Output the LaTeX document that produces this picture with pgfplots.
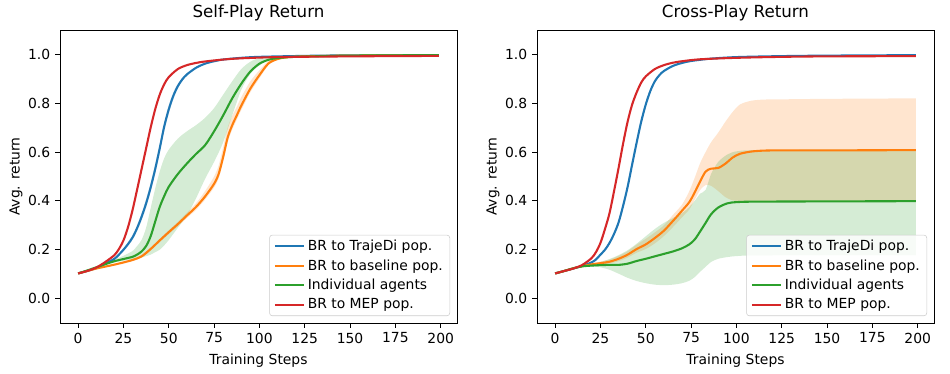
\documentclass[border=0pt]{standalone}
\usepackage{fontspec}
\setmainfont{DejaVu Sans}
\usepackage{pgfplots}
\pgfplotsset{compat=1.18}
\usepackage{pgfplotstable}
\usepgfplotslibrary{fillbetween}

\definecolor{tabblue}{HTML}{1F77B4}
\definecolor{taborange}{HTML}{FF7F0E}
\definecolor{tabgreen}{HTML}{2CA02C}
\definecolor{tabred}{HTML}{D62728}

% ---- Self-play (left) ----
\pgfplotstableread{
x y lo hi
0 0.103 0.103 0.103
5 0.113 0.112 0.114
10 0.125 0.124 0.126
15 0.143 0.141 0.145
20 0.163 0.159 0.167
22.5 0.180 0.175 0.185
25 0.200 0.194 0.206
27.5 0.223 0.215 0.231
30 0.250 0.240 0.260
32.5 0.288 0.276 0.300
35 0.335 0.320 0.350
37.5 0.390 0.373 0.407
40 0.455 0.436 0.474
42.5 0.530 0.510 0.550
45 0.615 0.595 0.635
47.5 0.705 0.686 0.724
50 0.775 0.758 0.792
52.5 0.830 0.816 0.844
55 0.870 0.860 0.880
57.5 0.898 0.891 0.905
60 0.918 0.913 0.923
65 0.945 0.942 0.948
70 0.962 0.960 0.964
75 0.972 0.971 0.973
80 0.979 0.978 0.980
90 0.986 0.985 0.987
100 0.990 0.989 0.991
125 0.994 0.993 0.995
150 0.996 0.995 0.997
199 0.997 0.996 0.998
}\spblue
\pgfplotstableread{
x y lo hi
0 0.103 0.103 0.103
5 0.113 0.112 0.114
10 0.123 0.122 0.124
15 0.131 0.130 0.132
20 0.139 0.137 0.141
25 0.148 0.145 0.151
30 0.158 0.154 0.162
35 0.173 0.168 0.178
40 0.203 0.197 0.209
45 0.238 0.231 0.245
50 0.272 0.264 0.280
55 0.305 0.296 0.314
60 0.340 0.330 0.352
65 0.375 0.363 0.390
70 0.418 0.405 0.440
75 0.470 0.455 0.500
77.5 0.510 0.492 0.545
80 0.580 0.560 0.620
82.5 0.660 0.640 0.700
85 0.710 0.692 0.748
87.5 0.750 0.732 0.785
90 0.790 0.772 0.825
95 0.860 0.845 0.890
100 0.915 0.902 0.935
105 0.963 0.956 0.973
110 0.981 0.978 0.985
115 0.988 0.986 0.990
125 0.992 0.991 0.993
150 0.995 0.994 0.996
199 0.997 0.996 0.998
}\sporange
\pgfplotstableread{
x y lo hi
0 0.103 0.103 0.103
5 0.115 0.114 0.116
10 0.128 0.126 0.130
15 0.141 0.138 0.145
20 0.153 0.148 0.160
25 0.162 0.155 0.175
30 0.171 0.160 0.195
32.5 0.180 0.164 0.215
35 0.193 0.168 0.240
37.5 0.215 0.174 0.290
40 0.255 0.180 0.370
42.5 0.315 0.190 0.450
45 0.375 0.200 0.520
47.5 0.420 0.218 0.575
50 0.458 0.240 0.610
55 0.510 0.290 0.655
60 0.553 0.340 0.685
65 0.592 0.410 0.710
70 0.628 0.490 0.740
75 0.685 0.560 0.780
80 0.750 0.640 0.835
85 0.820 0.750 0.890
90 0.880 0.855 0.940
95 0.930 0.920 0.970
100 0.962 0.955 0.985
105 0.978 0.975 0.990
110 0.985 0.983 0.992
120 0.990 0.989 0.994
150 0.995 0.994 0.996
199 0.997 0.996 0.998
}\spgreen
\pgfplotstableread{
x y lo hi
0 0.103 0.103 0.103
5 0.113 0.112 0.114
10 0.127 0.126 0.128
15 0.150 0.148 0.152
20 0.178 0.175 0.181
22.5 0.203 0.199 0.207
25 0.238 0.233 0.243
27.5 0.292 0.286 0.298
30 0.362 0.355 0.369
32.5 0.445 0.438 0.452
35 0.530 0.523 0.537
37.5 0.615 0.608 0.622
40 0.700 0.694 0.706
42.5 0.775 0.770 0.780
45 0.835 0.831 0.839
47.5 0.878 0.875 0.881
50 0.907 0.905 0.909
55 0.940 0.939 0.941
60 0.956 0.955 0.957
65 0.965 0.964 0.966
70 0.971 0.970 0.972
80 0.979 0.978 0.980
90 0.984 0.983 0.985
110 0.989 0.988 0.990
150 0.992 0.991 0.993
199 0.994 0.993 0.995
}\spred

% ---- Cross-play (right) ----
\pgfplotstableread{
x y lo hi
0 0.103 0.103 0.103
5 0.113 0.112 0.114
10 0.123 0.122 0.124
15 0.134 0.133 0.135
20 0.148 0.146 0.150
22.5 0.160 0.157 0.163
25 0.180 0.176 0.184
27.5 0.200 0.195 0.205
30 0.228 0.222 0.234
32.5 0.265 0.257 0.273
35 0.312 0.302 0.322
37.5 0.380 0.368 0.392
40 0.458 0.445 0.471
42.5 0.550 0.536 0.564
45 0.640 0.626 0.654
47.5 0.725 0.712 0.738
50 0.795 0.784 0.806
52.5 0.850 0.842 0.858
55 0.890 0.884 0.896
57.5 0.915 0.911 0.919
60 0.932 0.929 0.935
65 0.953 0.951 0.955
70 0.965 0.964 0.966
75 0.973 0.972 0.974
85 0.982 0.981 0.983
100 0.989 0.988 0.990
125 0.993 0.992 0.994
150 0.995 0.994 0.996
199 0.997 0.996 0.998
}\cpblue
\pgfplotstableread{
x y lo hi
0 0.103 0.103 0.103
5 0.113 0.112 0.114
10 0.124 0.122 0.126
15 0.133 0.130 0.136
20 0.140 0.137 0.144
25 0.145 0.140 0.152
30 0.151 0.144 0.160
35 0.163 0.153 0.175
40 0.180 0.168 0.194
45 0.203 0.188 0.221
50 0.222 0.203 0.245
55 0.248 0.226 0.271
60 0.278 0.256 0.300
65 0.318 0.293 0.343
70 0.360 0.333 0.385
74 0.395 0.365 0.440
77 0.435 0.405 0.495
80 0.480 0.445 0.555
83 0.520 0.465 0.600
86 0.532 0.462 0.640
90 0.535 0.440 0.680
94 0.553 0.415 0.725
98 0.578 0.402 0.765
102 0.593 0.399 0.795
108 0.602 0.398 0.810
115 0.606 0.398 0.815
125 0.607 0.398 0.816
150 0.607 0.398 0.818
199 0.608 0.398 0.820
}\cporange
\pgfplotstableread{
x y lo hi
0 0.103 0.103 0.103
5 0.113 0.112 0.114
10 0.124 0.122 0.126
15 0.132 0.129 0.135
20 0.135 0.131 0.140
25 0.137 0.128 0.150
30 0.138 0.118 0.162
35 0.138 0.102 0.178
40 0.143 0.085 0.198
45 0.154 0.072 0.225
50 0.163 0.063 0.255
55 0.173 0.057 0.285
60 0.183 0.055 0.310
65 0.193 0.057 0.330
70 0.206 0.063 0.350
74 0.222 0.073 0.375
77 0.242 0.088 0.400
80 0.275 0.110 0.430
83 0.310 0.130 0.445
86 0.345 0.150 0.510
90 0.373 0.163 0.560
95 0.390 0.170 0.590
100 0.395 0.174 0.603
110 0.397 0.177 0.608
150 0.398 0.178 0.610
199 0.399 0.178 0.610
}\cpgreen
\pgfplotstableread{
x y lo hi
0 0.103 0.103 0.103
5 0.113 0.112 0.114
10 0.123 0.122 0.124
15 0.138 0.137 0.139
20 0.165 0.163 0.167
22.5 0.190 0.187 0.193
25 0.228 0.224 0.232
27.5 0.285 0.280 0.290
30 0.350 0.344 0.356
32.5 0.440 0.434 0.446
35 0.535 0.529 0.541
37.5 0.635 0.629 0.641
40 0.725 0.720 0.730
42.5 0.795 0.791 0.799
45 0.845 0.842 0.848
47.5 0.885 0.883 0.887
50 0.910 0.908 0.912
55 0.940 0.939 0.941
60 0.956 0.955 0.957
65 0.966 0.965 0.967
70 0.972 0.971 0.973
80 0.980 0.979 0.981
100 0.986 0.985 0.987
125 0.990 0.989 0.991
150 0.992 0.991 0.993
199 0.993 0.992 0.994
}\cpred

\newcommand{\band}[3]{%
  \addplot[name path=#3lo, draw=none, forget plot, smooth] table[x=x, y=lo] {#1};
  \addplot[name path=#3hi, draw=none, forget plot, smooth] table[x=x, y=hi] {#1};
  \addplot[fill=#2, fill opacity=0.2, draw=none, forget plot] fill between[of=#3lo and #3hi];
}

\pgfplotsset{
  legend image code/.code={\draw[#1] (0pt,0pt) -- (21pt,0pt);},
  rlaxis/.style={
    scale only axis, width=285.84pt, height=210.96pt,
    xmin=-10, xmax=209, ymin=-0.1, ymax=1.1,
    xtick={0,25,...,200}, ytick={0,0.2,0.4,0.6,0.8,1.0},
    yticklabel style={/pgf/number format/.cd, fixed, fixed zerofill, precision=1},
    /pgf/number format/assume math mode=true,
    tick align=outside, tick pos=left,
    major tick length=3.5pt,
    tick style={black, line width=0.6pt},
    axis line style={line width=0.6pt},
    ticklabel style={font=\fontsize{10}{12}\selectfont},
    title style={font=\fontsize{12}{14}\selectfont, anchor=base, inner sep=0pt, yshift=3pt},
    xlabel style={font=\fontsize{10}{12}\selectfont, yshift=-1pt},
    every axis y label/.style={at={(axis description cs:-0.111,0.5)}, anchor=center, rotate=90,
      font=\fontsize{10}{12}\selectfont},
    xlabel={Training Steps}, ylabel={Avg. return},
    legend cell align=left,
    legend style={at={(1,0)}, anchor=south east, xshift=-5pt, yshift=5pt,
      draw=black!20, rounded corners=2pt, fill=white, fill opacity=0.8, text opacity=1,
      font=\fontsize{10}{12}\selectfont, row sep=1pt, inner xsep=3pt, inner ysep=1.5pt},
    every axis plot/.append style={line width=1.5pt},
  },
}

\begin{document}
\begin{tikzpicture}
\begin{axis}[rlaxis, title={Self-Play Return}]
  \band{\spblue}{tabblue}{a}
  \band{\sporange}{taborange}{b}
  \band{\spgreen}{tabgreen}{c}
  \band{\spred}{tabred}{d}
  \addplot[tabblue, smooth] table[x=x, y=y] {\spblue};
  \addlegendentry{BR to TrajeDi pop.}
  \addplot[taborange, smooth] table[x=x, y=y] {\sporange};
  \addlegendentry{BR to baseline pop.}
  \addplot[tabgreen, smooth] table[x=x, y=y] {\spgreen};
  \addlegendentry{Individual agents}
  \addplot[tabred, smooth] table[x=x, y=y] {\spred};
  \addlegendentry{BR to MEP pop.}
\end{axis}
\begin{axis}[rlaxis, at={(343.44pt,0pt)}, title={Cross-Play Return}]
  \band{\cpblue}{tabblue}{e}
  \band{\cporange}{taborange}{f}
  \band{\cpgreen}{tabgreen}{g}
  \band{\cpred}{tabred}{h}
  \addplot[tabblue, smooth] table[x=x, y=y] {\cpblue};
  \addlegendentry{BR to TrajeDi pop.}
  \addplot[taborange, smooth] table[x=x, y=y] {\cporange};
  \addlegendentry{BR to baseline pop.}
  \addplot[tabgreen, smooth] table[x=x, y=y] {\cpgreen};
  \addlegendentry{Individual agents}
  \addplot[tabred, smooth] table[x=x, y=y] {\cpred};
  \addlegendentry{BR to MEP pop.}
\end{axis}
\path (-43.2pt,-36.72pt) rectangle (640.8pt,232.56pt);
\end{tikzpicture}
\end{document}
